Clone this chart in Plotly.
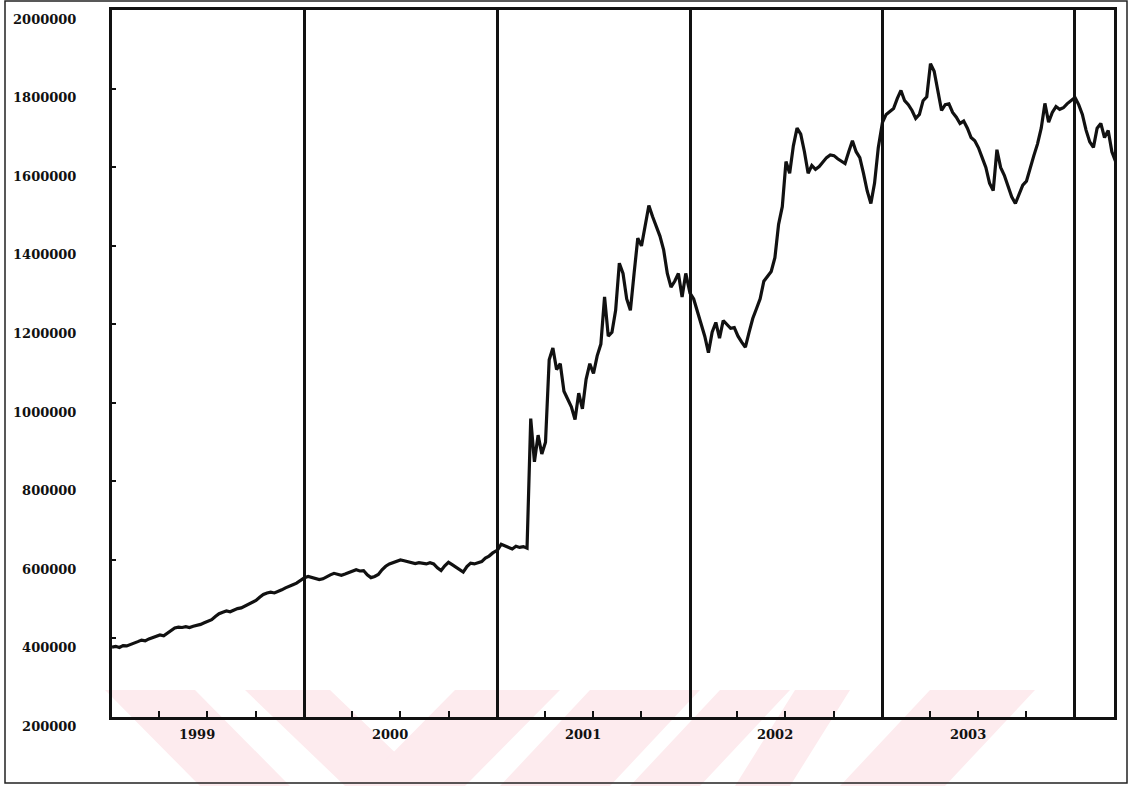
import pandas as pd
import plotly.graph_objects as go

# Weekly index level (thousands), one list per calendar year
v1999 = [378, 380, 377, 382, 381, 384, 388, 392, 396, 394, 399, 402, 405, 409, 407, 414,
         420, 427, 429, 428, 430, 428, 431, 433, 436, 440, 443, 448, 456, 463, 467, 470,
         468, 473, 476, 478, 483, 489, 493, 497, 505, 512, 516, 518, 516, 519, 524, 529,
         532, 537, 541, 548]
v2000 = [555, 558, 556, 553, 550, 552, 558, 562, 566, 563, 561, 564, 568, 572, 575, 572,
         573, 562, 555, 558, 563, 575, 584, 590, 594, 597, 600, 598, 595, 593, 591, 593,
         592, 590, 593, 590, 580, 573, 585, 594, 588, 582, 574, 569, 583, 592, 590, 593,
         596, 605, 610, 618]
v2001 = [625, 640, 636, 631, 628, 635, 632, 634, 630, 960, 850, 918, 870, 900, 1110, 1140,
         1085, 1100, 1030, 1010, 990, 958, 1025, 985, 1060, 1100, 1075, 1120, 1150, 1270,
         1170, 1180, 1236, 1356, 1330, 1265, 1236, 1330, 1420, 1400, 1457, 1503, 1475, 1450,
         1425, 1390, 1330, 1295, 1310, 1330, 1270, 1330]
v2002 = [1280, 1265, 1235, 1200, 1170, 1128, 1180, 1205, 1165, 1210, 1200, 1190, 1192, 1170,
         1155, 1142, 1180, 1215, 1240, 1265, 1310, 1322, 1335, 1370, 1455, 1500, 1615, 1585,
         1655, 1700, 1685, 1640, 1585, 1605, 1595, 1602, 1615, 1625, 1632, 1630, 1622, 1615,
         1610, 1640, 1668, 1640, 1625, 1585, 1540, 1508, 1560, 1650]
v2003 = [1715, 1735, 1742, 1750, 1775, 1796, 1770, 1760, 1745, 1725, 1735, 1770, 1780, 1864,
         1845, 1790, 1745, 1760, 1762, 1740, 1728, 1712, 1718, 1700, 1676, 1668, 1650, 1625,
         1600, 1560, 1541, 1645, 1600, 1580, 1555, 1525, 1508, 1530, 1555, 1565, 1600, 1630,
         1660, 1700, 1763, 1715, 1740, 1755, 1748, 1752, 1762, 1770]
v2004 = [1778, 1760, 1735, 1695, 1665, 1651, 1700, 1712, 1676, 1694, 1640, 1615]

yearly = {1999: v1999, 2000: v2000, 2001: v2001, 2002: v2002, 2003: v2003, 2004: v2004}
years = [1999, 2000, 2001, 2002, 2003]
y_ticks = [200000, 400000, 600000, 800000, 1000000, 1200000, 1400000, 1600000, 1800000, 2000000]

dates, values = [], []
for yr, vals in yearly.items():
    dates.extend(pd.date_range(f"{yr}-01-01", periods=len(vals), freq="7D"))
    values.extend(v * 1000 for v in vals)

x_start, x_end = "1999-01-01", "2004-03-15"
year_starts = [f"{y}-01-01" for y in years + [2004]]
quarters = [f"{y}-{m:02d}-01" for y in years for m in (4, 7, 10)] + ["2004-04-01"]
mid_years = [f"{y}-07-01" for y in years]

FONT = "DejaVu Serif"
INK = "#111111"

fig = go.Figure()
fig.add_trace(go.Scatter(x=dates, y=values, mode="lines",
                         line=dict(color=INK, width=3.2), showlegend=False))

# plot-area geometry in pixels, used to place decorations in paper units
W, H = 1129, 786
L, R, T, B = 112, 15, 10, 69
pw, ph = W - L - R, H - T - B


def px(x):
    return (x - L) / pw


def py(y):
    return (H - B - y) / ph


# faint pink stripes across the bottom of the page
stripes = [
    ((105, 195), (200, 290)),
    ((245, 330), (345, 430)),
    ((455, 560), (360, 465)),
    ((590, 700), (500, 610)),
    ((720, 790), (630, 700)),
    ((795, 850), (735, 790)),
    ((930, 1035), (840, 945)),
]
shapes = []
for (t0, t1), (b0, b1) in stripes:
    path = (f"M {px(t0)},{py(690)} L {px(t1)},{py(690)} "
            f"L {px(b1)},{py(786)} L {px(b0)},{py(786)} Z")
    shapes.append(dict(type="path", xref="paper", yref="paper", path=path,
                       fillcolor="#fdebee", line=dict(width=0), layer="below"))

# thin page frame
shapes.append(dict(type="rect", xref="paper", yref="paper",
                   x0=px(5), x1=px(1127), y0=py(783), y1=py(1),
                   line=dict(color="#222222", width=1.5)))

annotations = [
    dict(x=d, y=py(744), xref="x", yref="paper", text=str(y), showarrow=False,
         xshift=-10, font=dict(family=FONT, size=13, color=INK, weight="bold"))
    for d, y in zip(mid_years, years)
]

fig.update_layout(
    width=W, height=H,
    margin=dict(l=L, r=R, t=T, b=B, autoexpand=False),
    paper_bgcolor="white", plot_bgcolor="rgba(0,0,0,0)",
    shapes=shapes, annotations=annotations,
    xaxis=dict(
        type="date", range=[x_start, x_end], automargin=False,
        tickmode="array", tickvals=year_starts, showticklabels=False, ticks="",
        showgrid=True, gridcolor=INK, gridwidth=2.5,
        showline=True, linecolor=INK, linewidth=3, mirror=True,
        zeroline=False,
        minor=dict(tickmode="array", tickvals=quarters, ticks="inside",
                   ticklen=6, tickwidth=2, tickcolor=INK, showgrid=False),
    ),
    yaxis=dict(
        range=[200000, 2001000], automargin=False,
        tickmode="array", tickvals=y_ticks, ticktext=[str(v) for v in y_ticks],
        ticks="inside", ticklen=4, tickwidth=2, tickcolor=INK,
        ticklabelshift=9, ticklabelstandoff=30, ticklabeloverflow="allow",
        tickfont=dict(family=FONT, size=13, color=INK, weight="bold"),
        showgrid=False, zeroline=False,
        showline=True, linecolor=INK, linewidth=3, mirror=True,
    ),
)

fig.write_html("out.html")
